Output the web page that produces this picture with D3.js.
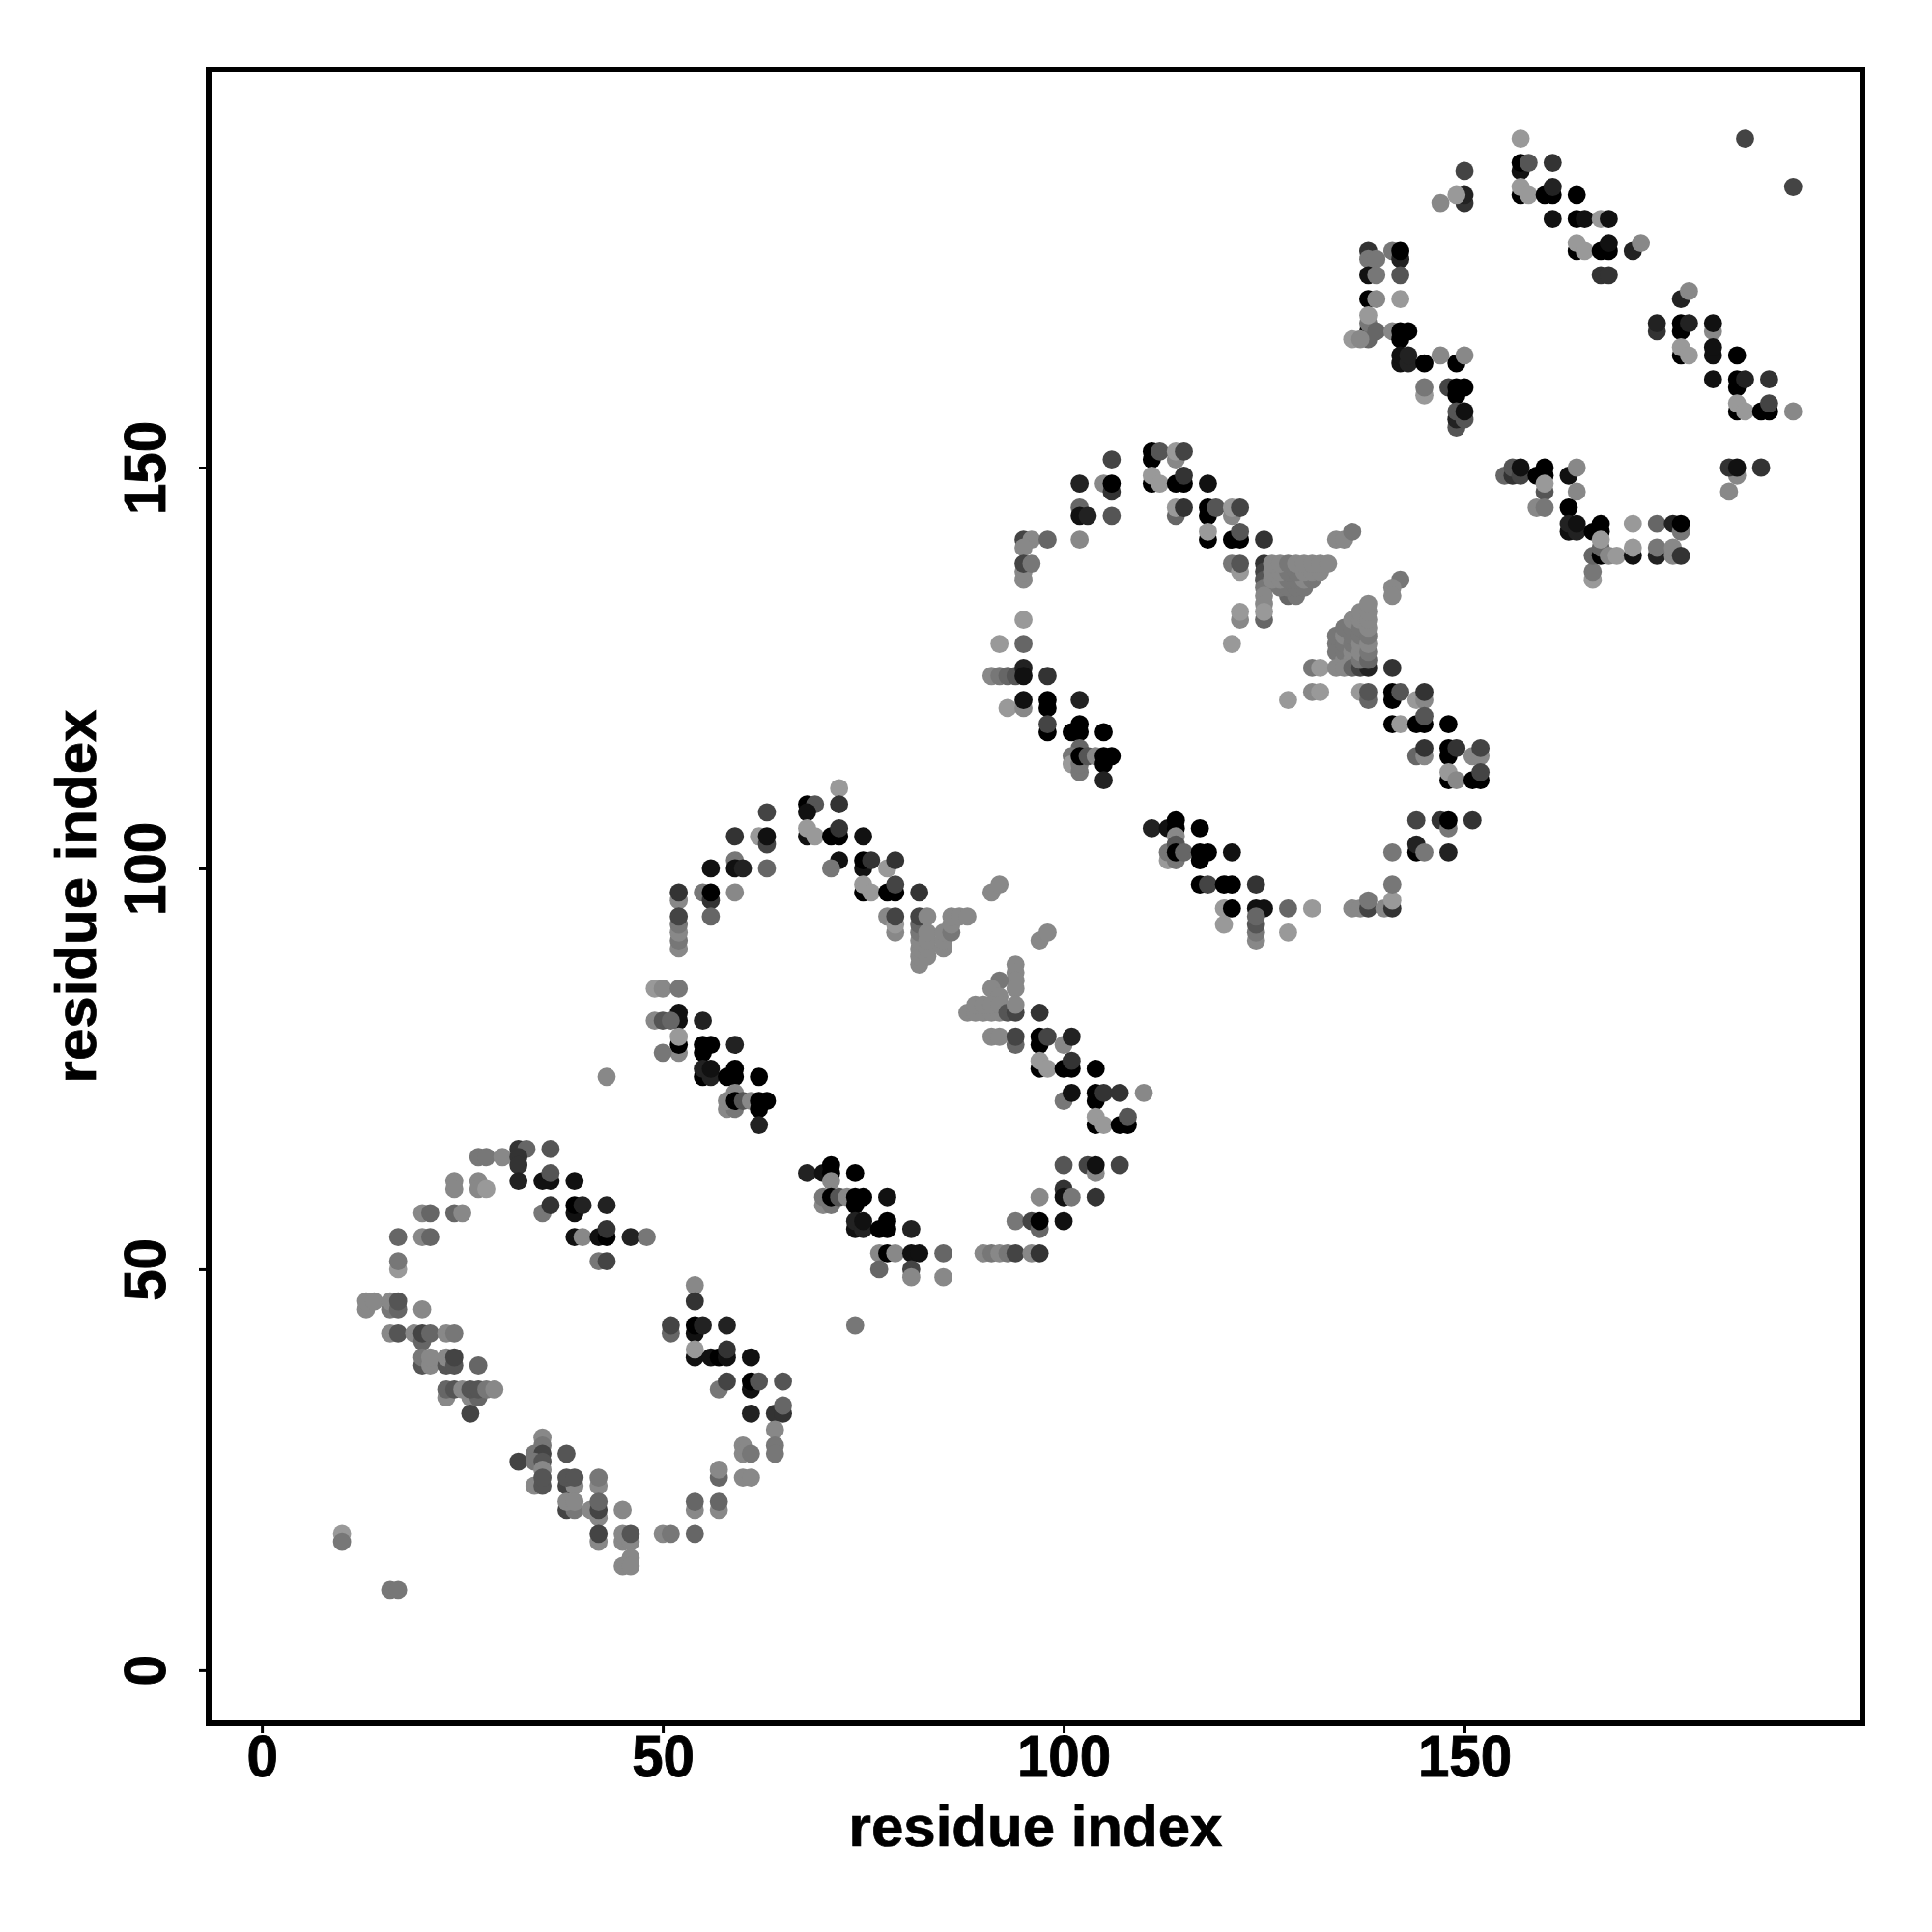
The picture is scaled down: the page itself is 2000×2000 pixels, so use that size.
<!DOCTYPE html>
<html><head><meta charset="utf-8">
<script src="https://cdn.jsdelivr.net/npm/d3@7/dist/d3.min.js"></script>
<style>html,body{margin:0;padding:0;background:#fff}svg{display:block}</style></head>
<body><div id="chart"></div>
<script>
// each contact: [residue i, residue j, shade level 0 (strong) .. 9 (weak)]
const domainOne = [
[10,17,9],[10,16,7],[16,10,7],[17,10,7],
[32,65,3],[33,65,6],[36,65,5],[27,64,7],[28,64,7],[30,64,8],[32,64,3],[32,63,3],
[36,61,1],[35,61,1],[36,62,5],[24,61,8],[24,60,8],[27,61,8],[27,60,8],[28,60,9],[32,61,2],[39,61,1],
[20,57,8],[21,57,6],[24,57,6],[25,57,8],[35,57,7],[36,58,3],[39,57,1],[39,58,0],[40,58,2],[43,58,2],
[17,54,6],[20,54,8],[21,54,6],[39,54,1],[40,54,8],[42,54,1],[43,54,0],[43,55,3],[46,54,2],[48,54,7],
[17,50,9],[17,51,7],[42,51,7],[43,51,4],
[13,45,8],[13,46,8],[14,46,8],[16,45,7],[16,46,8],[17,45,6],[17,46,5],[20,45,8],
[16,42,8],[17,42,5],[19,42,8],[20,41,6],[20,42,4],[21,42,6],[23,42,8],[24,42,7],
[20,38,5],[20,39,7],[21,38,8],[21,39,8],[23,38,5],[23,39,8],[24,38,5],[24,39,4],[27,38,6],
[23,34,8],[26,34,8],[27,34,6],[23,35,6],[24,35,5],[25,35,8],[26,35,5],[27,35,5],[28,35,7],[29,35,8],[26,32,4],
[54,48,8],[54,46,3],[51,42,6],[51,43,4],[54,42,1],[54,43,0],[55,43,2],[58,43,2],
[54,39,1],[54,40,9],[56,39,1],[57,39,0],[58,39,1],[58,40,3],[61,39,1],
[57,35,7],[58,36,4],[61,35,1],[61,36,0],[62,36,5],[65,36,5],[61,32,2],[64,32,3],[65,32,3],[65,33,6],
[64,30,8],[64,28,7],[64,27,7],[60,28,8],[60,27,8],[61,27,7],[57,24,6],[57,25,8],[60,24,8],[61,24,8],
[54,20,8],[54,21,6],[57,20,8],[57,21,6],[54,17,6],[50,17,8],[51,17,7],
[35,29,8],[35,28,7],[34,27,7],[35,27,4],[32,26,4],[34,26,7],[35,26,5],[35,25,8],[34,23,8],[35,23,5],[35,24,5],
[38,27,5],[38,23,4],[39,23,8],[38,24,5],[39,24,5],[42,23,8],[42,24,7],
[38,20,4],[39,20,7],[38,21,8],[39,21,8],[41,20,8],[42,19,8],[42,20,4],[42,21,6],[45,20,8],
[42,16,8],[42,17,4],[45,16,8],[45,17,8],[46,16,8],[46,17,5],[46,14,8],[45,13,8],[46,13,8],
[43,74,8],[74,43,7]
];
const domainTwo = [
[72,110,9],[72,108,3],[68,108,0],[69,108,5],[68,107,1],[63,107,4],
[59,104,3],[62,104,9],[63,103,4],[63,104,1],[68,104,1],[68,105,9],[69,104,9],[71,104,0],[72,104,0],[72,105,3],[75,104,1],
[59,101,7],[72,101,1],[71,100,7],[75,100,1],[75,101,0],[76,101,3],[78,100,9],[79,101,3],[56,100,1],[59,100,1],[60,100,2],[63,100,6],
[52,96,8],[52,97,3],[55,97,7],[56,96,3],[56,97,0],[56,94,6],[59,97,8],
[75,97,0],[75,98,9],[76,97,9],[78,97,0],[79,97,0],[79,98,4],[82,97,3],
[52,90,8],[52,91,7],[52,92,8],[52,93,7],[52,94,4],
[78,94,8],[79,92,8],[79,93,9],[79,94,4],
[82,88,8],[82,89,8],[82,90,8],[82,91,8],[82,92,7],[82,93,6],[82,94,4],[83,89,8],[83,90,8],[83,91,8],[83,92,8],[83,94,8],
[85,90,8],[85,91,8],[85,92,8],[86,92,7],[86,93,8],[86,94,8],[87,94,8],[88,94,8],
[91,97,8],[92,98,8],[97,91,8],[98,92,8],
[94,88,8],[94,87,8],[94,86,8],[94,85,8],[92,86,7],[91,85,8],[92,84,8],
[88,82,8],[89,82,8],[90,82,8],[91,82,8],[92,82,8],[89,83,8],[90,83,8],[91,83,8],[92,83,8],[93,82,5],[94,82,4],[94,83,8],[97,82,3],
[91,79,8],[92,79,8],[94,78,6],[94,79,4],[97,78,0],[97,79,0],[98,79,4],[100,78,8],[101,79,2],
[97,75,0],[97,76,9],[98,75,9],[100,75,0],[101,75,0],[101,76,3],[104,75,0],
[100,71,7],[101,72,1],[104,71,0],[104,72,0],[105,72,3],[107,72,3],[110,72,8],
[104,68,0],[104,69,9],[105,68,9],[107,68,0],[108,68,0],[108,69,5],
[100,63,5],[103,63,4],[104,62,8],[104,63,1],[107,63,4],
[100,60,3],[100,59,1],[101,59,7],[97,59,8],[104,59,3],
[94,56,7],[96,56,4],[97,55,6],[97,56,0],[100,56,1],
[90,52,8],[91,52,7],[92,52,8],[93,52,7],[94,52,4],[96,52,8],[97,52,3],
[77,52,8],[78,52,0],[79,52,8],[81,52,1],[82,52,1],[85,52,6],[77,50,6],[81,50,4],[81,49,8],[85,49,8],
[49,85,9],[50,85,8],[52,85,7],[52,81,1],[52,82,1],[49,81,8],[50,81,5],[51,81,6],[55,81,2],
[52,77,8],[52,78,0],[52,79,9],[50,77,7],[55,77,0],[55,78,0],[56,78,0],[59,78,2],
[55,74,0],[55,75,2],[56,74,2],[56,75,1],[58,74,0],[59,75,0],[59,74,0],[62,74,0],
[58,70,8],[59,70,7],[58,71,8],[59,72,8],[59,71,0],[60,71,5],[61,71,8],[62,70,0],[62,71,0],[63,71,0],[62,68,2],
[68,62,2],[70,62,1],[71,63,0],[71,62,0],[74,62,0],[71,61,8],
[70,58,8],[71,58,7],[70,59,7],[71,59,0],[72,59,5],[73,59,8],[74,58,0],[74,59,0],[75,59,0],[78,59,1],
[74,55,1],[74,56,2],[75,55,2],[75,56,1],[77,55,0],[78,55,0],[78,56,0],[81,55,2]
];
const domainThree = [
[111,151,0],[111,152,0],[112,152,5],[114,151,8],[114,152,9],[115,152,4],[106,151,4],
[102,148,2],[105,148,8],[106,147,3],[106,148,0],[111,148,0],[111,149,9],[112,148,9],[114,148,0],[115,148,0],[115,149,3],[118,148,1],
[102,145,6],[102,144,1],[103,144,2],[106,144,5],[114,144,6],[114,145,9],[115,145,3],
[118,144,0],[118,145,0],[119,145,5],[121,144,8],[121,145,9],[122,145,4],
[118,141,0],[118,142,9],[121,141,0],[122,141,0],[122,142,5],[125,141,3],
[95,141,4],[96,141,8],[98,141,6],[102,141,8],[95,140,8],[95,136,8],[95,137,8],[95,138,4],[96,138,7],[95,131,9],[92,128,9],[95,128,6],
[91,124,8],[92,124,7],[93,124,6],[94,124,5],[95,125,2],[95,124,1],[98,124,3],
[93,120,9],[95,120,8],[95,121,1],[98,120,0],[98,121,0],[102,121,2],
[98,117,0],[98,118,4],[102,118,0],[101,117,0],[102,117,0],[105,117,0],
[102,115,6],[101,114,7],[101,113,9],[102,112,7],[102,113,7],[102,114,0],[103,114,5],[104,114,8],[105,113,0],[105,114,0],[106,114,0],[105,111,2],
[121,138,7],[122,137,9],[122,138,5],[125,138,3],[125,137,4],[125,136,5],[125,135,7],[125,134,8],[125,133,8],[125,131,6],[125,132,9],[122,131,8],[122,132,9],[121,128,9],
[128,134,6],[129,134,7],[127,135,7],[128,135,7],[129,135,7],[130,135,7],[126,136,8],[127,136,8],[128,136,7],[129,136,7],[130,136,8],[131,136,7],
[126,137,8],[127,137,8],[128,137,7],[129,137,7],[130,137,8],[131,137,8],[132,137,8],
[126,138,8],[127,138,8],[128,138,7],[129,138,8],[130,138,8],[131,138,8],[132,138,8],[133,138,8],
[134,141,8],[135,141,8],[136,142,7],[142,136,7],[141,135,8],[141,134,8],
[134,128,7],[134,127,7],[134,129,7],[135,126,8],[135,127,7],[135,128,7],[135,129,8],[135,130,7],
[136,126,8],[136,127,8],[136,128,7],[136,129,7],[136,130,7],[136,131,8],
[131,125,7],[132,125,9],[134,125,8],[135,125,8],[136,125,6],[137,125,4],[138,125,2],
[137,126,7],[137,127,8],[137,128,8],[137,129,7],[137,130,7],[137,131,8],[137,132,8],
[138,126,6],[138,127,7],[138,128,8],[138,129,7],[138,130,8],[138,131,8],[138,132,8],[138,133,8],[141,125,3],
[128,121,9],[131,122,8],[132,122,9],[137,122,9],[138,121,6],[138,122,5],[141,121,0],[141,122,0],[142,122,5],[144,121,9],[145,121,8],[145,122,3],
[141,118,0],[142,118,9],[144,118,0],[145,118,0],[145,119,5],[148,118,0],
[144,114,6],[145,114,8],[145,115,3],[148,114,0],[148,115,0],[149,115,3],[151,114,8],[152,114,8],[152,115,4],
[148,111,0],[148,112,9],[149,111,8],[151,111,0],[152,111,0],[152,112,4],
[111,105,2],[113,105,1],[114,105,0],[114,106,0],[117,105,0],[114,104,8],
[113,101,9],[114,101,7],[113,102,7],[114,103,5],[114,102,0],[115,102,6],[117,101,0],[117,102,0],[118,102,0],[121,102,1],
[117,98,0],[118,98,4],[120,98,0],[121,98,0],[124,98,3],
[120,95,9],[121,95,0],[124,95,1],[125,95,1],[128,95,6],[131,95,9],[136,95,8],[137,95,8],[138,95,4],[138,96,7],[140,95,8],[141,95,3],[141,96,9],[141,98,7],
[120,93,9],[124,91,8],[124,92,7],[124,93,5],[124,94,6],[128,92,9],
[144,106,4],[147,106,3],[148,105,7],[148,106,0],[151,106,3],[144,102,0],[144,103,2],[145,102,7],[141,102,7],[148,102,2]
];
const domainFour = [
[157,191,9],[157,187,1],[157,188,0],[158,188,5],[161,188,3],[150,187,4],[150,183,3],[150,184,2],[149,184,9],[147,183,8],
[157,184,0],[157,185,9],[158,184,9],[160,184,0],[161,184,0],[161,185,2],[164,184,0],
[161,181,1],[164,181,0],[165,181,1],[167,181,9],[168,181,1],
[164,177,0],[164,178,9],[165,177,9],[167,177,0],[168,177,0],[168,178,1],[171,177,2],[172,178,8],[167,174,3],[168,174,3],
[138,177,3],[138,176,7],[139,176,7],[141,177,7],[142,176,2],[142,177,0],
[138,174,1],[139,174,7],[142,174,5],[138,171,0],[139,171,8],[142,171,9],
[138,167,0],[138,166,6],[138,168,7],[138,169,9],[139,167,6],[141,167,8],[136,166,9],[137,166,8],[142,166,0],[142,167,0],[143,167,0],
[142,163,1],[142,164,1],[143,163,2],[143,164,2],[145,163,0],[147,164,8],[149,163,0],[150,164,8],
[145,159,9],[145,160,7],[148,160,4],[149,160,0],[150,160,0],[149,159,0],
[149,155,5],[149,156,2],[149,157,5],[150,156,5],[150,157,1],
[155,149,6],[156,149,3],[156,150,5],[157,149,4],[157,150,1],[159,149,0],[160,149,0],[160,150,0],[163,149,1],[164,150,8],
[160,147,5],[160,148,9],[164,147,8],[159,145,8],[160,145,7],[163,145,0],
[163,142,1],[163,143,2],[164,142,2],[164,143,1],[166,142,0],[167,142,0],[167,143,0],[171,143,9],[174,143,6],[176,143,2],[177,142,7],[177,143,0],
[166,136,9],[166,137,7],[166,139,6],[167,139,0],[167,140,6],[167,141,9],[168,139,8],[169,139,9],
[171,139,1],[171,140,9],[174,139,2],[174,140,7],[176,139,8],[176,140,8],[177,139,3],
[183,147,8],[184,149,8],[183,150,3],[184,150,1],[187,150,3],[185,191,4],[191,185,4],
[177,171,2],[178,172,8],[174,167,3],[174,168,2],[177,167,0],[177,168,0],[178,168,2],[181,167,8],[181,168,1],
[177,164,0],[177,165,9],[178,164,9],[181,164,1],[181,165,1],[184,164,0],
[181,161,1],[184,160,0],[184,161,0],[185,161,2],[188,161,3],
[184,157,0],[184,158,9],[185,157,9],[187,157,0],[188,157,0],[188,158,4],[191,157,8]
];
const xTickValues = [0, 50, 100, 150];
const yTickValues = [0, 50, 100, 150];
const axisTitle = "residue index";

const margin = {left: 216, right: 72, top: 72, bottom: 216};
const W = 2000, H = 2000;
const font = "'Liberation Sans', Arial, sans-serif";
const contacts = [...domainOne, ...domainTwo, ...domainThree, ...domainFour];

const x = d3.scaleLinear().domain([-6.64, 199.64]).range([margin.left, W - margin.right]);
const y = d3.scaleLinear().domain([-6.64, 199.64]).range([H - margin.bottom, margin.top]);
const shade = d3.scaleLinear().domain([0, 9]).range(["#000000", "#999999"]);

const svg = d3.select("#chart").append("svg").attr("width", W).attr("height", H);
svg.append("rect").attr("width", W).attr("height", H).attr("fill", "#fff");

svg.append("g").selectAll("circle").data(contacts).join("circle")
  .attr("cx", d => x(d[0])).attr("cy", d => y(d[1])).attr("r", 9.4)
  .attr("fill", d => shade(d[2]));

svg.append("rect").attr("x", margin.left).attr("y", margin.top)
  .attr("width", W - margin.left - margin.right).attr("height", H - margin.top - margin.bottom)
  .attr("fill", "none").attr("stroke", "#000").attr("stroke-width", 6);

const xAxis = svg.append("g").attr("transform", `translate(0,${H - margin.bottom})`)
  .call(d3.axisBottom(x).tickValues(xTickValues).tickSize(10).tickFormat(d3.format("d")));
const yAxis = svg.append("g").attr("transform", `translate(${margin.left},0)`)
  .call(d3.axisLeft(y).tickValues(yTickValues).tickSize(10).tickFormat(d3.format("d")));
[xAxis, yAxis].forEach(a => {
  a.select(".domain").remove();
  a.selectAll("line").attr("stroke", "#000").attr("stroke-width", 3);
  a.selectAll("text").attr("font-family", font).attr("font-weight", "bold").attr("font-size", 62)
    .attr("fill", "#000").attr("stroke", "#000").attr("stroke-width", 0.9);
});
xAxis.selectAll("text").attr("y", null).attr("dy", null).attr("text-anchor", "middle")
  .attr("transform", "translate(0,55) scale(0.94,1)");
yAxis.selectAll("text").attr("x", null).attr("dy", null).attr("text-anchor", "middle")
  .attr("transform", "translate(-45,0) rotate(-90) scale(0.94,1)");

function title(sel) {
  return sel.attr("text-anchor", "middle").attr("font-family", font).attr("font-weight", "bold")
    .attr("font-size", 60).attr("stroke", "#000").attr("stroke-width", 0.7).text(axisTitle);
}
title(svg.append("text").attr("x", (x.range()[0] + x.range()[1]) / 2).attr("y", 1911));
title(svg.append("text").attr("transform", `translate(99,${(y.range()[0] + y.range()[1]) / 2}) rotate(-90)`));
</script></body></html>
